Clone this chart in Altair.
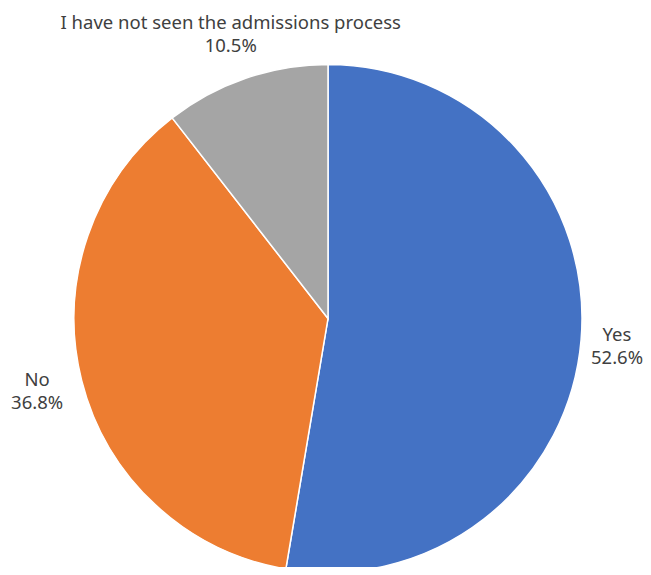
import altair as alt
import pandas as pd

categories = ["Yes", "No", "I have not seen the admissions process"]
percents = [52.6, 36.8, 10.5]
labels = ["Yes\n52.6%", "No\n36.8%", "I have not seen the admissions process\n10.5%"]
colors = ["#4472C4", "#ED7D31", "#A5A5A5"]

df = pd.DataFrame({
    "category": categories,
    "percent": percents,
    "label": labels,
    "idx": list(range(len(categories))),
})

base = alt.Chart(df).encode(
    theta=alt.Theta("percent:Q", stack=True),
    order=alt.Order("idx:O"),
    x=alt.value(320),
    y=alt.value(310.5),
)

pie = base.mark_arc(radius=254, stroke="white", strokeWidth=1.5).encode(
    color=alt.Color("category:N", scale=alt.Scale(domain=categories, range=colors), legend=None),
)

text_style = dict(font="Noto Sans", fontSize=18.5, lineBreak="\n", lineHeight=23,
                  color="#404040", align="center", baseline="middle")

text_main = base.mark_text(radius=300, dy=-11.5, **text_style).encode(
    text=alt.condition(alt.datum.category != "Yes", "label:N", alt.value(""))
)
text_yes = base.mark_text(radius=290, dy=-8, **text_style).encode(
    text=alt.condition(alt.datum.category == "Yes", "label:N", alt.value(""))
)

chart = (pie + text_main + text_yes).properties(
    width=635, height=559, padding=0,
    autosize=alt.AutoSizeParams(type="none"),
    background="white",
).configure_view(stroke=None)

chart.save("out.html", embed_options={"renderer": "svg", "actions": False})
